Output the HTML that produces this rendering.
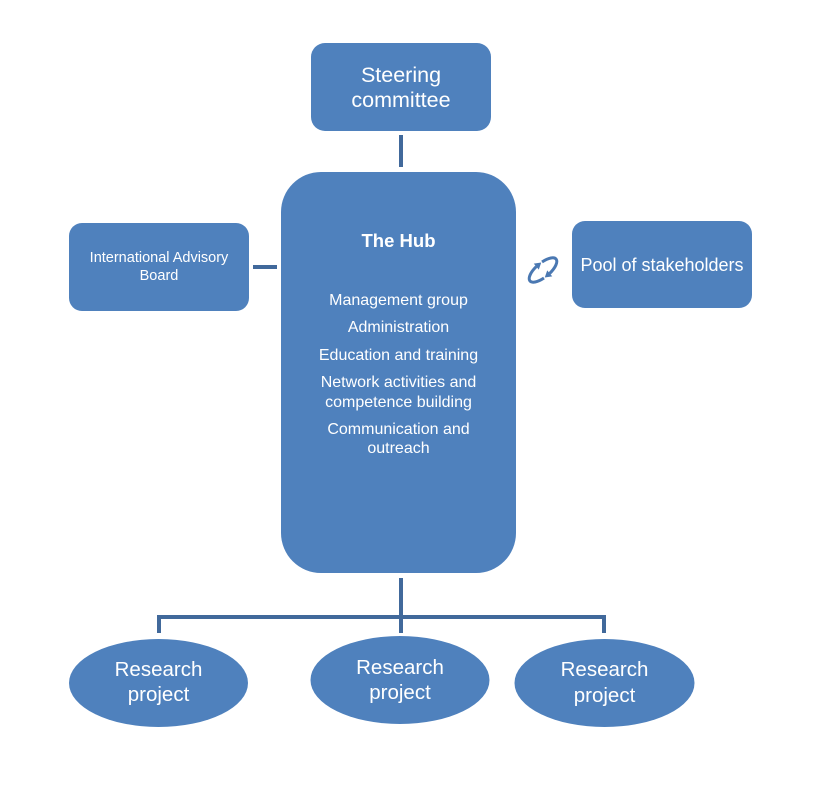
<!DOCTYPE html>
<html>
<head>
<meta charset="utf-8">
<style>
  html, body { margin:0; padding:0; background:#ffffff; }
  body { width:825px; height:785px; overflow:hidden; }
  svg { display:block; }
  text { font-family: "Liberation Sans", "DejaVu Sans", sans-serif; fill:#ffffff; }
</style>
</head>
<body>
<svg width="825" height="785" viewBox="0 0 825 785" xmlns="http://www.w3.org/2000/svg">
  <!-- connectors -->
  <g stroke="#41699B" stroke-width="4" fill="none" stroke-linecap="butt">
    <line x1="401" y1="135" x2="401" y2="167"/>
    <line x1="253" y1="267" x2="277" y2="267"/>
    <line x1="401" y1="578" x2="401" y2="633"/>
    <polyline points="159,633 159,617 604,617 604,633" stroke-linejoin="miter"/>
  </g>

  <!-- Steering committee -->
  <rect x="311" y="43" width="180" height="88" rx="14" ry="14" fill="#4F81BD"/>
  <text x="401" y="82" font-size="21.5" text-anchor="middle">Steering</text>
  <text x="401" y="107" font-size="21.5" text-anchor="middle">committee</text>

  <!-- Hub -->
  <rect x="281" y="172" width="235" height="401" rx="40" ry="40" fill="#4F81BD"/>
  <text x="398.5" y="247" font-size="18.5" font-weight="bold" text-anchor="middle">The Hub</text>
  <g font-size="16" text-anchor="middle">
    <text x="398.5" y="305">Management group</text>
    <text x="398.5" y="332">Administration</text>
    <text x="398.5" y="360">Education and training</text>
    <text x="398.5" y="387">Network activities and</text>
    <text x="398.5" y="407">competence building</text>
    <text x="398.5" y="434">Communication and</text>
    <text x="398.5" y="453">outreach</text>
  </g>

  <!-- International Advisory Board -->
  <rect x="69" y="223" width="180" height="88" rx="13" ry="13" fill="#4F81BD"/>
  <text x="159" y="262" font-size="14.5" text-anchor="middle">International Advisory</text>
  <text x="159" y="280" font-size="14.5" text-anchor="middle">Board</text>

  <!-- Pool of stakeholders -->
  <rect x="572" y="221" width="180" height="87" rx="13" ry="13" fill="#4F81BD"/>
  <text x="662" y="271" font-size="18" text-anchor="middle">Pool of stakeholders</text>

  <!-- cycle icon -->
  <g transform="translate(543,270) rotate(-40)">
    <g fill="none" stroke="#4A78B2" stroke-width="3">
      <path d="M 4.4 -6.76 A 17 7 0 0 1 2.95 6.9"/>
      <path d="M -4.4 6.76 A 17 7 0 0 1 -2.95 -6.9"/>
    </g>
    <g fill="#4A78B2">
      <polygon points="-3.5,6.9 3,3 3,10.8"/>
      <polygon points="3.5,-6.9 -3,-10.8 -3,-3"/>
    </g>
  </g>

  <!-- Research projects -->
  <ellipse cx="158.5" cy="683" rx="89.5" ry="44" fill="#4F81BD"/>
  <text x="158.5" y="676" font-size="20.5" text-anchor="middle">Research</text>
  <text x="158.5" y="701" font-size="20.5" text-anchor="middle">project</text>

  <ellipse cx="400" cy="680" rx="89.5" ry="44" fill="#4F81BD"/>
  <text x="400" y="674" font-size="20.5" text-anchor="middle">Research</text>
  <text x="400" y="699" font-size="20.5" text-anchor="middle">project</text>

  <ellipse cx="604.5" cy="683" rx="90" ry="44" fill="#4F81BD"/>
  <text x="604.5" y="676" font-size="20.5" text-anchor="middle">Research</text>
  <text x="604.5" y="702" font-size="20.5" text-anchor="middle">project</text>
</svg>
</body>
</html>
